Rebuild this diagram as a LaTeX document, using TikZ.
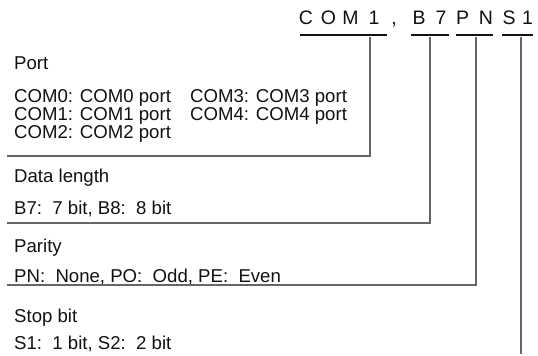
\documentclass[tikz,border=0pt]{standalone}
\usepackage{fontspec}
\setmainfont{Liberation Sans}
\usetikzlibrary{positioning}
\definecolor{ink}{HTML}{111111}
\definecolor{wire}{HTML}{666666}

\begin{document}
\begin{tikzpicture}[
  x=1bp, y=-1bp,
  txt/.style={anchor=base west, inner sep=0pt, text=ink,
           font=\fontsize{18.6bp}{22bp}\selectfont},
  code/.style={anchor=base, inner sep=0pt, text=ink,
           font=\fontsize{19.5bp}{22bp}\selectfont},
  uline/.style={line width=1.5bp, color=ink},
  link/.style={line width=1.3bp, color=wire}
]
  \useasboundingbox (0,0) rectangle (538,355);

  % setting string, one node per character
  \foreach \x/\c [count=\i] in {306/C, 328.5/O, 350.5/M, 374/1, 394/{,},
                                419/B, 441/7, 462.5/P, 486/N, 509/S, 527.5/1}
    \node[code] (ch\i) at (\x,24.5) {\c};

  \draw[uline] (300,35) -- (387,35);
  \draw[uline] (411,35) -- (449,35);
  \draw[uline] (456,35) -- (493,35);
  \draw[uline] (502,35) -- (533,35);

  % field descriptions
  \node[txt] (port)  at (14,69.6)  {Port};
  \node[txt] (com0)  at (14,102.6) {COM0: COM0 port};
  \node[txt] (com1)  at (14,120.6) {COM1: COM1 port};
  \node[txt] (com2)  at (14,138.6) {COM2: COM2 port};
  \node[txt] (com3)  at (190,102.6) {COM3: COM3 port};
  \node[txt] (com4)  at (190,120.6) {COM4: COM4 port};

  \node[txt] (dlen)  at (14,182.6) {Data length};
  \node[txt] (dval)  at (14,214)   {B7:\ \ 7 bit, B8:\ \ 8 bit};

  \node[txt] (par)   at (14,252.2) {Parity};
  \node[txt] (pval)  at (14,282.2) {PN:\ \ None, PO:\ \ Odd, PE:\ \ Even};

  \node[txt] (stop)  at (14,322.6) {Stop bit};
  \node[txt] (sval)  at (14,349)   {S1:\ \ 1 bit, S2:\ \ 2 bit};

  % leader lines
  \coordinate (portTap) at (370,37);
  \coordinate (lenTap)  at (430,37);
  \coordinate (parTap)  at (476,37);
  \coordinate (stopTap) at (521,37);
  \coordinate (portEnd) at (7,156);
  \coordinate (lenEnd)  at (7,223);
  \coordinate (parEnd)  at (7,285);
  \coordinate (stopEnd) at (521,354);

  \draw[link] (portTap) |- (portEnd);
  \draw[link] (lenTap) |- (lenEnd);
  \draw[link] (parTap) |- (parEnd);
  \draw[link] (stopTap) -- (stopEnd);
\end{tikzpicture}
\end{document}
